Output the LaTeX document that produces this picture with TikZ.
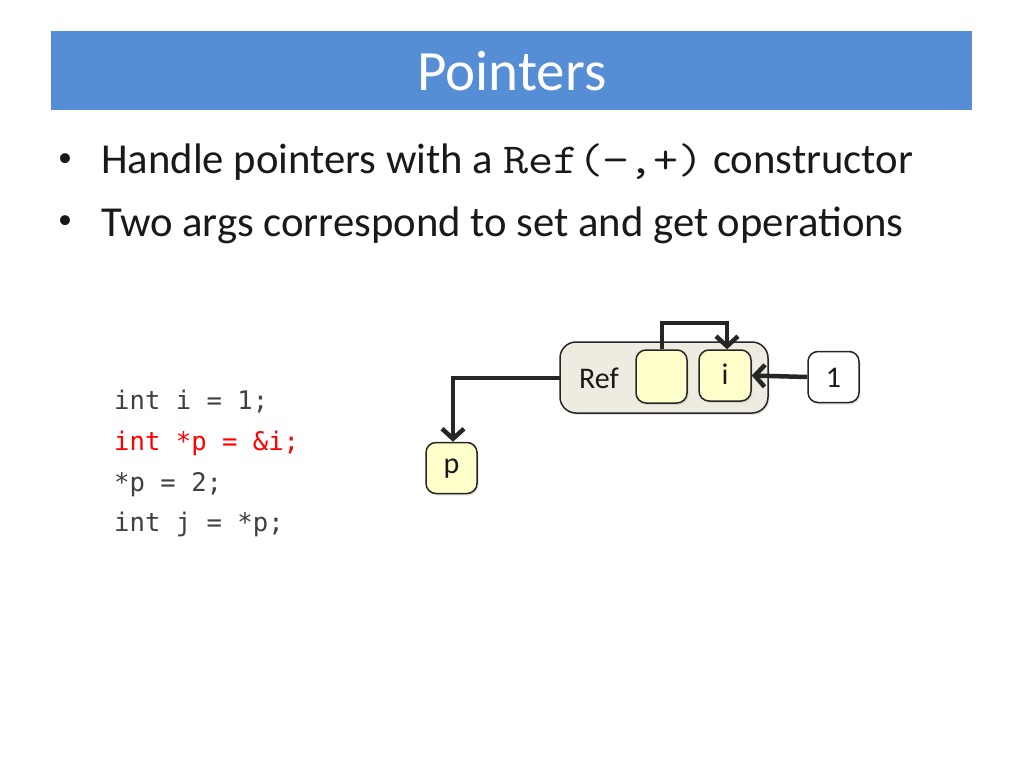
\documentclass[tikz,border=0pt]{standalone}
\usepackage{fontspec}
\setmainfont{Carlito}
\newfontfamily\codefont{DejaVu Sans Mono}
\newfontfamily\courfont[FakeStretch=1.14]{Latin Modern Mono}
\usetikzlibrary{arrows.meta,shadows}
\definecolor{titleblue}{HTML}{558ED5}
\definecolor{refgray}{HTML}{EEECE1}
\definecolor{boxyellow}{HTML}{FFFFCC}
\definecolor{linedark}{HTML}{262626}
\definecolor{codegray}{HTML}{404040}
\tikzset{
  box/.style={draw=linedark, line width=1.5pt, rounded corners=10pt, inner sep=0pt,
    drop shadow={opacity=0.2, shadow xshift=1.5pt, shadow yshift=-2pt}},
  refbox/.style={box, fill=refgray, rounded corners=16pt},
  ybox/.style={box, fill=boxyellow},
  wbox/.style={box, fill=white},
  conn/.style={draw=linedark, line width=4.5pt,
    -{Straight Barb[length=10pt, width=22pt, line width=4.5pt]}},
  bullettext/.style={anchor=base west, inner sep=0pt, font=\fontsize{42.7}{50}\selectfont, text=black!90},
  bulletdot/.style={anchor=center, inner sep=0pt, font=\fontsize{28}{32}\selectfont, text=black!90},
  codetext/.style={anchor=base west, inner sep=0pt, font=\codefont\fontsize{25.6}{30}\selectfont, text=codegray},
  lbl/.style={font=\fontsize{30}{34}\selectfont, text=black!90, inner sep=0pt}
}
\begin{document}
\begin{tikzpicture}[x=1pt, y=-1pt]
\useasboundingbox (0,0) rectangle (1024,768);
\fill[white] (0,0) rectangle (1024,768);
% title
\fill[titleblue] (51,31) rectangle (972,110);
\node[anchor=base, inner sep=0pt, text=white, font=\fontsize{57}{64}\selectfont] (title) at (512,90) {Pointers};
% bullets
\node[bulletdot] (b1dot) at (65,160) {\textbullet};
\node[bullettext] (b1) at (101,173) {Handle pointers with a {\courfont Ref(−,+)} constructor};
\node[bulletdot] (b2dot) at (65,222) {\textbullet};
\node[bullettext] (b2) at (101,236) {Two args correspond to set and get operations};
% code
\node[codetext] (c1) at (114,409) {int i = 1;};
\node[codetext, text=red] (c2) at (114,450) {int *p = \&i;};
\node[codetext] (c3) at (114,491) {*p = 2;};
\node[codetext] (c4) at (114,531) {int j = *p;};
% diagram
\path[refbox] (560,342) rectangle (768,413);
\coordinate (refw) at (560,378);
\node[lbl, anchor=center] (reflbl) at (599,378) {Ref};
\node[ybox, minimum width=51pt, minimum height=53pt] (set) at (661.5,376.5) {};
\node[ybox, minimum width=52pt, minimum height=51pt] (get) at (725,375.5) {};
\node[lbl] (getlbl) at (725,374) {i};
\node[wbox, minimum width=51pt, minimum height=51pt] (one) at (833.5,377) {};
\node[lbl] (onelbl) at (833.5,378) {1};
\node[ybox, minimum width=51pt, minimum height=51pt] (p) at (451.5,468) {};
\node[lbl] (plbl) at (451.5,469) {p};
% connectors
\draw[conn] (refw) -- (453,378) -- (p.north -| 453,0);
\draw[conn] (set.north -| 662,0) -- (662,323) -- (727,323) -- (get.north -| 727,0);
\draw[conn] (one.west) -- (get.east);
\end{tikzpicture}
\end{document}
